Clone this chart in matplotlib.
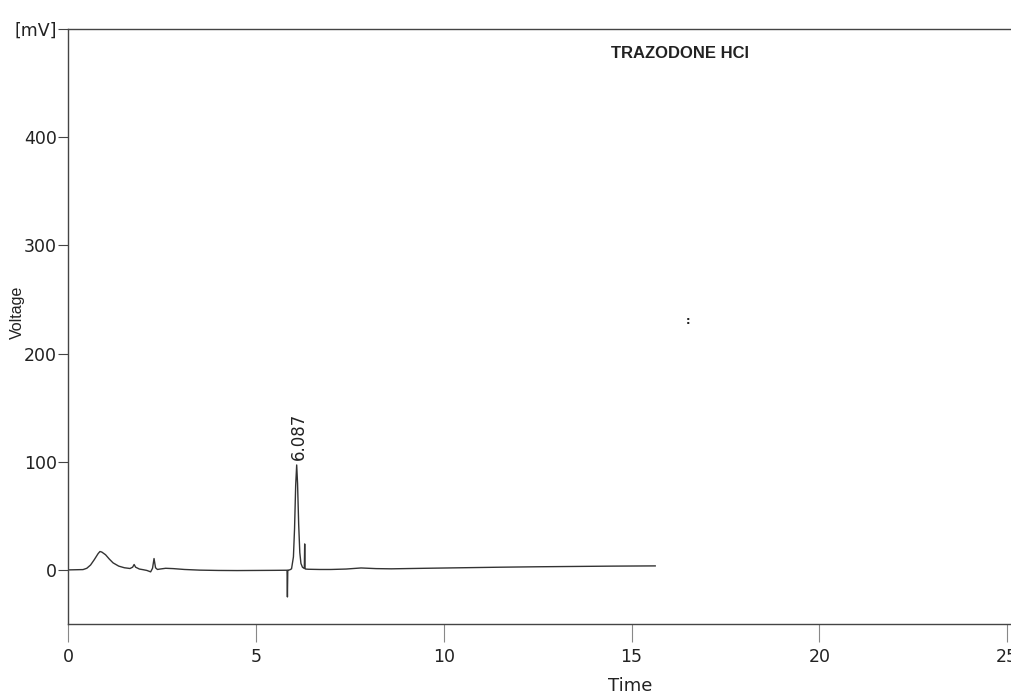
import matplotlib.pyplot as plt
from matplotlib import font_manager

# chromatogram trace (time in min, voltage in mV)
time = [0.0, 0.4, 0.5, 0.6, 0.7, 0.8, 0.85, 0.9, 1.0, 1.1, 1.2, 1.35, 1.5, 1.65,
        1.72, 1.76, 1.8, 1.9, 2.0, 2.1, 2.2, 2.25, 2.29, 2.33, 2.38, 2.45, 2.6,
        2.8, 3.1, 3.5, 4.0, 4.5, 5.0, 5.5, 5.83, 5.84, 5.85, 5.86, 5.9, 5.95,
        6.0, 6.03, 6.06, 6.087, 6.11, 6.14, 6.17, 6.2, 6.24, 6.29, 6.30, 6.31,
        6.32, 6.4, 6.7, 7.0, 7.4, 7.8, 8.2, 8.6, 9.5, 10.5, 11.5, 12.5, 13.5,
        14.5, 15.63]
voltage = [0.0, 0.3, 1.5, 4.5, 9.5, 15.0, 17.0, 16.5, 14.0, 10.0, 6.5, 3.5, 2.0,
           1.3, 2.5, 5.0, 2.5, 0.8, 0.2, -0.5, -1.8, 1.5, 10.5, 2.0, 0.4, 0.8,
           1.5, 1.2, 0.4, -0.2, -0.5, -0.6, -0.5, -0.4, -0.3, -25.0, -0.3,
           -0.2, 0.0, 1.0, 12.0, 38.0, 78.0, 97.0, 80.0, 42.0, 16.0, 6.0, 2.5,
           1.3, 24.0, 1.2, 0.8, 0.6, 0.4, 0.4, 0.8, 1.8, 1.2, 1.0, 1.5, 2.0,
           2.5, 2.9, 3.2, 3.5, 3.7]

peak_time = 6.087
peak_label = "6.087"
y_ticks = [0, 100, 200, 300, 400, 500]
y_labels = ["0", "100", "200", "300", "400", "[mV]"]
x_ticks = [0, 5, 10, 15, 20, 25]

names = {f.name for f in font_manager.fontManager.ttflist}
narrow = "Liberation Sans Narrow" if "Liberation Sans Narrow" in names else "DejaVu Sans"

fig = plt.figure(figsize=(10.11, 6.96), dpi=100)
ax = fig.add_axes([68 / 1011, 72 / 696, 943 / 1011, 595 / 696])

ax.plot(time, voltage, color="#333333", linewidth=1.0)

ax.set_xlim(0, 25.1)
ax.set_ylim(-50, 500)
ax.spines["right"].set_visible(False)
for s in ["left", "top", "bottom"]:
    ax.spines[s].set_color("#444444")
    ax.spines[s].set_linewidth(1.0)

ax.set_yticks(y_ticks)
ax.set_yticklabels(y_labels, fontfamily=narrow, fontsize=12.5)
ax.set_xticks(x_ticks)
ax.set_xticklabels([str(t) for t in x_ticks], fontfamily=narrow, fontsize=12.5)
ax.tick_params(axis="y", direction="out", length=7, width=0.8, pad=1, colors="#444444",
               labelcolor="#222222")
ax.tick_params(axis="x", direction="out", length=13, width=0.8, pad=4, colors="#888888",
               labelcolor="#222222")

ax.text(peak_time + 0.05, 102, peak_label, rotation=90, ha="center", va="bottom",
        fontsize=12, color="#222222")
ax.text((680 - 68) / 37.55, 477, "TRAZODONE HCl", ha="center",
        va="center", fontsize=12, fontweight="bold", color="#222222",
        fontfamily="Liberation Sans")
ax.text((688 - 68) / 37.55, 230, ":", ha="center", va="center", fontsize=8,
        fontweight="bold", color="#222222")

fig.text(17 / 1011, 1 - 312 / 696, "Voltage", rotation=90, ha="center", va="center",
         fontsize=11.5, color="#222222", fontfamily="Liberation Sans")
fig.text(630 / 1011, 1 - 686 / 696, "Time", ha="center", va="center",
         fontsize=13, color="#222222", fontfamily=narrow)

fig.savefig("out.png", dpi=100)
